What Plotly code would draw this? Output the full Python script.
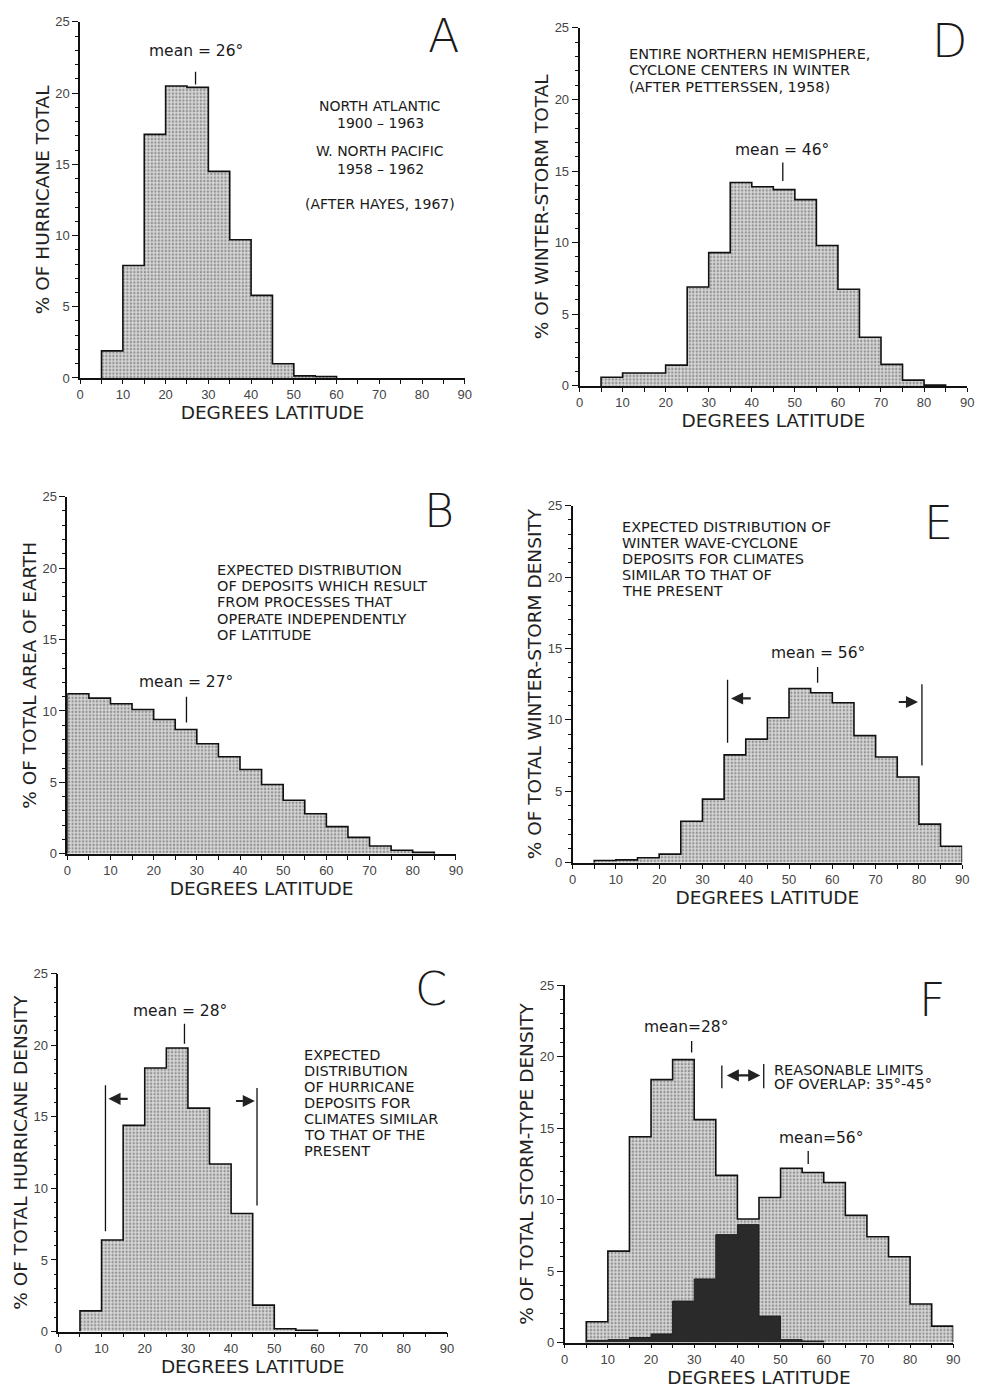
import plotly.graph_objects as go

W, H = 986, 1397
BIN = 5

# ---------------- data (percent per 5-degree latitude band) ----------------
# A: % of hurricane total (bins start at 5 deg)
a_start = 5
a_vals = [1.9, 7.9, 17.1, 20.5, 20.4, 14.5, 9.7, 5.8, 1.0, 0.15, 0.1]
# B: % of total area of earth (bins start at 0 deg)
b_start = 0
b_vals = [11.2, 10.9, 10.5, 10.1, 9.4, 8.7, 7.7, 6.8, 5.9, 4.85, 3.75, 2.8, 1.9, 1.15, 0.55, 0.25, 0.1]
# C: % of total hurricane density
c_start = 5
c_vals = [1.45, 6.4, 14.4, 18.4, 19.8, 15.6, 11.7, 8.25, 1.85, 0.2, 0.1]
# D: % of winter-storm total
d_start = 5
d_vals = [0.6, 0.9, 0.9, 1.45, 6.9, 9.3, 14.2, 13.9, 13.7, 13.0, 9.8, 6.75, 3.4, 1.5, 0.4, 0.05]
# E: % of total winter-storm density
e_start = 5
e_vals = [0.15, 0.2, 0.35, 0.6, 2.9, 4.45, 7.55, 8.65, 10.15, 12.2, 11.9, 11.2, 8.9, 7.4, 6.0, 2.7, 1.15]
# F: % of total storm-type density (envelope and overlap)
f_start = 5
f_light = [1.45, 6.4, 14.4, 18.4, 19.8, 15.6, 11.7, 8.65, 10.15, 12.2, 11.9, 11.2, 8.9, 7.4, 6.0, 2.7, 1.15]
f_dark = [0.15, 0.2, 0.35, 0.6, 2.9, 4.45, 7.55, 8.25, 1.85, 0.2, 0.1]

x_ticks = [0, 10, 20, 30, 40, 50, 60, 70, 80, 90]
y_ticks = [0, 5, 10, 15, 20, 25]

# ---------------- panel placement (page pixels: x0, x90 / y0, y25) ----------------
panels = {
    1: dict(px=(77, 466), py=(375, 15), ytitle="% OF HURRICANE TOTAL"),
    2: dict(px=(582, 974), py=(383, 21), ytitle="% OF WINTER-STORM TOTAL"),
    3: dict(px=(64, 457), py=(856, 495), ytitle="% OF TOTAL AREA OF EARTH"),
    4: dict(px=(575, 969), py=(865, 504), ytitle="% OF TOTAL WINTER-STORM DENSITY"),
    5: dict(px=(55, 448), py=(1339, 977), ytitle="% OF TOTAL HURRICANE DENSITY"),
    6: dict(px=(567, 960), py=(1350, 989), ytitle="% OF TOTAL STORM-TYPE DENSITY"),
}

TFONT = "DejaVu Sans"
NFONT = "Liberation Sans"
FILL_BG = "#d8d8d8"
FILL_FG = "#4e4e4e"


def ref(i):
    return ("x" if i == 1 else f"x{i}"), ("y" if i == 1 else f"y{i}")


def step_xy(start, vals):
    edges = [start + k * BIN for k in range(len(vals) + 1)]
    xs = [edges[0]] + edges[:-1] + [edges[-1], edges[-1]]
    ys = [0] + list(vals) + [vals[-1], 0]
    return xs, ys


fig = go.Figure()


def add_hist(i, start, vals, dark=False):
    xr, yr = ref(i)
    xs, ys = step_xy(start, vals)
    if dark:
        fig.add_trace(go.Scatter(
            x=xs, y=ys, mode="lines", line=dict(shape="hv", color="#1e1e1e", width=1),
            fill="tozeroy", fillcolor="#2a2a2a", xaxis=xr, yaxis=yr, hoverinfo="skip"))
    else:
        fig.add_trace(go.Scatter(
            x=xs, y=ys, mode="lines",
            line=dict(shape="hv", color="#111111", width=1.6),
            fill="tozeroy", fillcolor=FILL_BG,
            fillpattern=dict(shape=".", fgcolor=FILL_FG, bgcolor=FILL_BG, size=3.5, solidity=0.38),
            xaxis=xr, yaxis=yr, hoverinfo="skip"))


add_hist(1, a_start, a_vals)
add_hist(2, d_start, d_vals)
add_hist(3, b_start, b_vals)
add_hist(4, e_start, e_vals)
add_hist(5, c_start, c_vals)
add_hist(6, f_start, f_light)
add_hist(6, f_start, f_dark, dark=True)

layout = dict(
    width=W, height=H, margin=dict(l=0, r=0, t=0, b=0),
    paper_bgcolor="white", plot_bgcolor="rgba(0,0,0,0)", showlegend=False,
    font=dict(family=TFONT, color="#222"),
)

for i, p in panels.items():
    xk = "xaxis" if i == 1 else f"xaxis{i}"
    yk = "yaxis" if i == 1 else f"yaxis{i}"
    xr, yr = ref(i)
    layout[xk] = dict(
        domain=[p["px"][0] / W, p["px"][1] / W], range=[0, 90], anchor=yr,
        tickvals=x_ticks, ticks="outside", ticklen=4, tickwidth=1.3, tickcolor="#111",
        minor=dict(dtick=5, tick0=0, ticks="outside", ticklen=4, tickwidth=1.3, tickcolor="#111"),
        showline=True, linecolor="#111", linewidth=1.6, showgrid=False, zeroline=False,
        tickfont=dict(size=13, color="#444", family=NFONT),
        title=dict(text="DEGREES LATITUDE", font=dict(size=18.5, color="#222", family=TFONT), standoff=5),
    )
    layout[yk] = dict(
        domain=[1 - p["py"][0] / H, 1 - p["py"][1] / H], range=[0, 25], anchor=xr,
        tickvals=y_ticks, ticks="outside", ticklen=6, tickwidth=1.3, tickcolor="#111",
        minor=dict(dtick=1, tick0=0, ticks="outside", ticklen=3, tickwidth=1.1, tickcolor="#111"),
        showline=True, linecolor="#111", linewidth=1.6, showgrid=False, zeroline=False,
        tickfont=dict(size=13, color="#444", family=NFONT),
        title=dict(text=p["ytitle"], font=dict(size=18.5, color="#222", family=TFONT), standoff=1),
    )

fig.update_layout(**layout)

ann = []
shapes = []


def text(i, x, y, t, size=14.5, xanchor="center", family=TFONT, weight=None):
    xr, yr = ref(i)
    f = dict(size=size, color="#1a1a1a", family=family)
    if weight is not None:
        f["weight"] = weight
    ann.append(dict(x=x, y=y, xref=xr, yref=yr, text=t, showarrow=False,
                    xanchor=xanchor, yanchor="middle", font=f))


def vline(i, x, y0, y1, w=1.3):
    xr, yr = ref(i)
    shapes.append(dict(type="line", xref=xr, yref=yr, x0=x, x1=x, y0=y0, y1=y1,
                       line=dict(color="#111", width=w)))


def arrow(i, x_tail, x_head, y, both=False):
    xr, yr = ref(i)
    ann.append(dict(x=x_head, y=y, ax=x_tail, ay=y, xref=xr, yref=yr, axref=xr, ayref=yr,
                    text="", showarrow=True, arrowhead=2, arrowsize=1.1, arrowwidth=2.2,
                    arrowcolor="#222", arrowside="end+start" if both else "end"))


LET = 46
MEAN = 15.5


def letter(i, x, y, t):
    text(i, x, y, t, LET, family=TFONT, weight=200)


# ---- A ----
letter(1, 85, 24.0, "A")
text(1, 27, 22.95, "mean = 26°", MEAN)
vline(1, 27, 20.6, 21.5)
for y, line in [(19.1, "NORTH ATLANTIC"), (17.9, "1900 – 1963"), (15.9, "W. NORTH PACIFIC"),
                (14.7, "1958 – 1962"), (12.2, "(AFTER HAYES, 1967)")]:
    text(1, 70.2, y, line, 14)

# ---- D ----
letter(2, 86, 24.1, "D")
text(2, 11.1, 23.2, "ENTIRE NORTHERN HEMISPHERE,", xanchor="left")
text(2, 11.1, 22.05, "CYCLONE CENTERS IN WINTER", xanchor="left")
text(2, 11.1, 20.9, "(AFTER PETTERSSEN, 1958)", xanchor="left")
text(2, 47.0, 16.5, "mean = 46°", MEAN)
vline(2, 47.2, 14.3, 15.6)

# ---- B ----
letter(3, 86.2, 24.0, "B")
for k, line in enumerate(["EXPECTED DISTRIBUTION", "OF DEPOSITS WHICH RESULT",
                          "FROM PROCESSES THAT", "OPERATE INDEPENDENTLY", "OF LATITUDE"]):
    text(3, 34.2, 19.9 - 1.15 * k, line, xanchor="left")
text(3, 27.6, 12.0, "mean = 27°", MEAN)
vline(3, 27.6, 9.2, 11.0)

# ---- E ----
letter(4, 84.5, 23.8, "E")
for k, line in enumerate(["EXPECTED DISTRIBUTION OF", "WINTER WAVE-CYCLONE",
                          "DEPOSITS FOR CLIMATES", "SIMILAR TO THAT OF", "THE PRESENT"]):
    text(4, 11.0, 23.5 - 1.12 * k, line, xanchor="left")
text(4, 56.7, 14.7, "mean = 56°", MEAN)
vline(4, 56.6, 12.6, 13.7)
vline(4, 35.8, 8.4, 12.8)
vline(4, 80.7, 6.8, 12.5)
arrow(4, 41.5, 36.6, 11.5)
arrow(4, 75.0, 79.8, 11.25)

# ---- C ----
letter(5, 86.2, 23.9, "C")
for k, line in enumerate(["EXPECTED", "DISTRIBUTION", "OF HURRICANE", "DEPOSITS FOR",
                          "CLIMATES SIMILAR", "TO THAT OF THE", "PRESENT"]):
    text(5, 56.4, 19.3 - 1.11 * k, line, xanchor="left")
text(5, 28.2, 22.4, "mean = 28°", MEAN)
vline(5, 29.2, 20.1, 21.5)
vline(5, 10.9, 7.0, 17.2)
vline(5, 46.0, 8.8, 17.0)
arrow(5, 16.4, 11.6, 16.25)
arrow(5, 40.8, 45.5, 16.1)

# ---- F ----
letter(6, 85.0, 24.0, "F")
text(6, 28.1, 22.1, "mean=28°", MEAN)
vline(6, 29.4, 20.3, 21.1)
text(6, 59.4, 14.3, "mean=56°", MEAN)
vline(6, 56.4, 12.5, 13.4)
vline(6, 36.4, 17.8, 19.4)
vline(6, 46.1, 17.8, 19.5)
arrow(6, 37.2, 45.3, 18.7, both=True)
text(6, 48.0, 19.1, "REASONABLE LIMITS", xanchor="left")
text(6, 48.0, 18.1, "OF OVERLAP: 35°-45°", xanchor="left")

fig.update_layout(annotations=ann, shapes=shapes)
fig.write_html(
    "out.html",
    config={"displayModeBar": False},
    post_script="document.body.style.margin='0';document.body.style.overflow='hidden';",
)
